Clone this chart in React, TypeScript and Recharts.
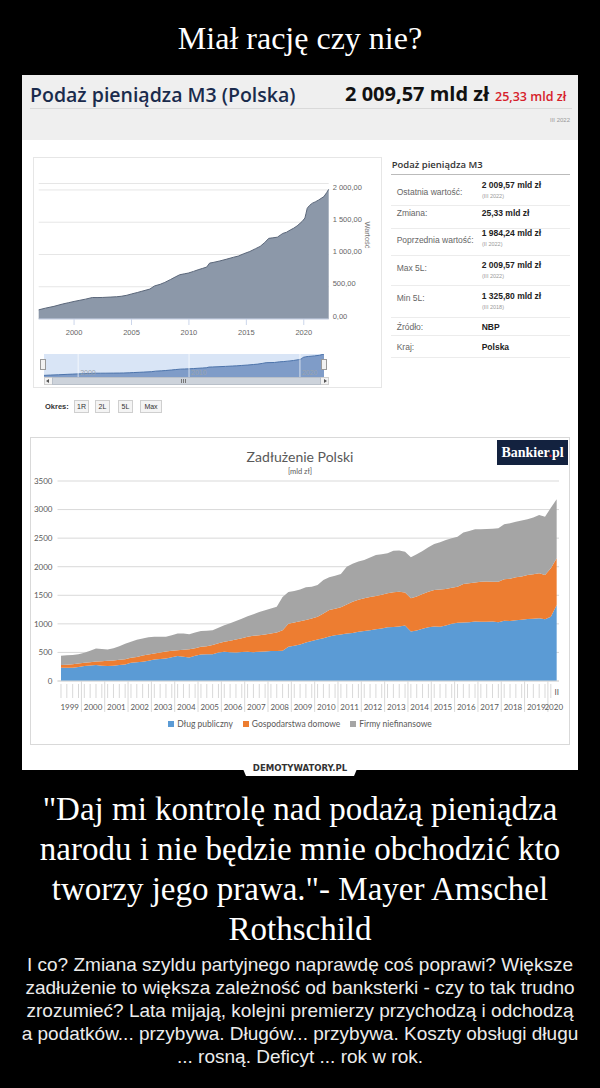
import React from 'react';
import { AreaChart, Area, XAxis, YAxis, CartesianGrid, ReferenceLine } from 'recharts';

// ---------- Podaż pieniądza M3 (mld zł) ----------
const m3Years = [1996.92, 1997.5, 1998.25, 1999.0, 1999.5, 2000.0, 2000.5, 2001.0, 2001.6, 2002.0, 2002.5, 2003.2, 2003.7, 2004.1, 2004.6, 2005.0, 2005.5, 2005.9, 2006.6, 2007.0, 2007.5, 2007.9, 2008.4, 2008.8, 2009.2, 2009.6, 2009.95, 2010.4, 2010.8, 2011.2, 2011.55, 2011.8, 2012.1, 2012.7, 2013.3, 2013.9, 2014.3, 2014.75, 2015.3, 2015.8, 2016.2, 2016.6, 2016.95, 2017.3, 2017.7, 2018.17, 2018.5, 2018.85, 2019.1, 2019.42, 2019.85, 2020.1, 2020.2, 2020.3, 2020.5, 2020.75, 2021.0, 2021.3, 2021.75, 2022.0, 2022.08, 2022.17];
const m3Values = [142, 168, 196, 232, 252, 272, 290, 308, 333, 332, 334, 340, 345, 352, 368, 388, 410, 430, 464, 512, 538, 567, 612, 650, 686, 700, 712, 738, 763, 785, 805, 866, 876, 900, 928, 958, 975, 1010, 1046, 1090, 1125, 1185, 1250, 1258, 1268, 1326, 1345, 1382, 1405, 1443, 1510, 1565, 1640, 1716, 1760, 1795, 1815, 1845, 1897, 1960, 1984.24, 2009.57];
const m3YTicks = [0, 500, 1000, 1500, 2000];
const m3XTicks = [2000, 2005, 2010, 2015, 2020];
const navTicks = [2000, 2010, 2020];
const periodButtons = ['1R', '2L', '5L', 'Max'];

const infoLabels = ['Ostatnia wartość:', 'Zmiana:', 'Poprzednia wartość:', 'Max 5L:', 'Min 5L:', 'Źródło:', 'Kraj:'];
const infoValues = ['2 009,57 mld zł', '25,33 mld zł', '1 984,24 mld zł', '2 009,57 mld zł', '1 325,80 mld zł', 'NBP', 'Polska'];
const infoDates = ['(III 2022)', '', '(II 2022)', '(III 2022)', '(III 2018)', '', ''];

// ---------- Zadłużenie Polski (mld zł), kwartalnie I 1999 – II 2020 ----------
const debtYears = [1999, 2000, 2001, 2002, 2003, 2004, 2005, 2006, 2007, 2008, 2009, 2010, 2011, 2012, 2013, 2014, 2015, 2016, 2017, 2018, 2019, 2020];
const quarterLabels = ['I', 'II', 'III', 'IV'];
const publicDebt = [232, 230, 232, 245, 261, 270, 279, 268, 261, 265, 279, 290, 320, 330, 337, 355, 378, 385, 395, 415, 436, 425, 412, 440, 465, 468, 470, 500, 511, 505, 500, 508, 511, 505, 511, 515, 523, 527, 529, 600, 615, 640, 675, 700, 726, 750, 780, 800, 815, 830, 840, 860, 875, 890, 904, 920, 939, 945, 955, 970, 865, 885, 915, 940, 955, 950, 970, 1000, 1020, 1025, 1030, 1040, 1038, 1035, 1040, 1030, 1055, 1050, 1065, 1070, 1085, 1090, 1097, 1080, 1125, 1330];
const households = [47, 55, 63, 60, 59, 60, 61, 77, 93, 95, 91, 92, 85, 90, 108, 110, 104, 115, 120, 115, 104, 123, 143, 135, 133, 142, 160, 160, 175, 200, 225, 242, 262, 285, 289, 300, 308, 323, 360, 400, 410, 405, 392, 395, 400, 430, 463, 465, 474, 510, 548, 560, 572, 580, 583, 590, 595, 610, 608, 580, 582, 595, 607, 620, 637, 650, 640, 630, 631, 672, 680, 685, 700, 705, 695, 708, 724, 740, 749, 760, 770, 780, 787, 775, 847, 817];
const firms = [163, 165, 158, 165, 174, 200, 229, 215, 198, 215, 240, 268, 281, 300, 299, 300, 291, 275, 258, 270, 291, 282, 264, 275, 279, 270, 259, 270, 290, 305, 327, 340, 360, 380, 408, 425, 436, 450, 581, 557, 550, 555, 572, 555, 554, 587, 571, 575, 583, 661, 662, 670, 670, 690, 718, 710, 700, 726, 722, 713, 717, 740, 753, 780, 805, 830, 857, 870, 875, 903, 915, 929, 916, 920, 930, 934, 963, 970, 974, 980, 974, 990, 1021, 1021, 1058, 1033];
const debtYTicks = [0, 500, 1000, 1500, 2000, 2500, 3000, 3500];
const seriesKeys = ['dlug', 'gosp', 'firmy'];
const seriesNames = ['Dług publiczny', 'Gospodarstwa domowe', 'Firmy niefinansowe'];
const seriesColors = ['#5b9bd5', '#ed7d31', '#a5a5a5'];

// ---------- derived tables ----------
const m3Data = m3Years.map((t, k) => ({ t, v: m3Values[k] }));
const debtData = publicDebt.map((d, i) => ({
  i,
  year: debtYears[Math.floor(i / 4)],
  q: quarterLabels[i % 4],
  dlug: d,
  gosp: households[i],
  firmy: firms[i],
}));
const yearCenters = debtYears.map((y) => {
  const idx = debtData.filter((r) => r.year === y).map((r) => r.i);
  return (idx[0] + idx[idx.length - 1]) / 2;
});
const yearSeparators = debtYears.slice(1).map((y) => (debtData.find((r) => r.year === y) as any).i - 0.5);
const quarterTicks = [...debtData.map((r) => r.i), ...yearSeparators].sort((a, b) => a - b);

const fmtPL = (v: number) => {
  const [int, dec] = v.toFixed(2).split('.');
  return int.replace(/\B(?=(\d{3})+(?!\d))/g, '\u00a0') + ',' + dec;
};

const SANS = '"Liberation Sans", Arial, sans-serif';
const SERIF = '"Liberation Serif", "Times New Roman", serif';
const OPEN = '"Open Sans", "Noto Sans", sans-serif';
const LATO = 'Lato, "Open Sans", sans-serif';

function T({ x, cy, size, children, style }: any) {
  return (
    <div
      style={{
        position: 'absolute',
        left: x,
        top: cy - size * 0.6,
        fontSize: size,
        lineHeight: `${size * 1.2}px`,
        whiteSpace: 'nowrap',
        ...style,
      }}
    >
      {children}
    </div>
  );
}

function M3YTick(props: any) {
  const { x, y, payload } = props;
  return (
    <text x={x} y={y - 3} dy="0.35em" textAnchor="start" fontSize={7.5} fill="#666" fontFamily={SANS}>
      {fmtPL(payload.value)}
    </text>
  );
}

function QuarterTick(props: any) {
  const { x, y, payload } = props;
  const v = payload.value;
  const sep = !Number.isInteger(v);
  const last = v === debtData.length - 1;
  if (last) {
    return (
      <text x={x} y={y + 14} textAnchor="middle" fontSize={8} fill="#595959" fontFamily={LATO}>
        {debtData[v].q}
      </text>
    );
  }
  return <line x1={x} x2={x} y1={sep ? y : y + 3} y2={sep ? y + 31 : y + 17} stroke="#d9d9d9" strokeWidth={1} />;
}

const btnX = [74, 95, 118, 140];
const btnW = [15, 15, 15, 22];
const rowCy = [191.7, 213.3, 240, 268.3, 297.7, 326.7, 346.7];
const valCy = [185, 213.3, 232.7, 265, 296, 326.7, 346.7];
const sepY = [205, 228, 255, 285, 316.7, 335, 356.7];

export default function App() {
  return (
    <div
      style={{
        position: 'absolute',
        left: 0,
        top: 0,
        width: 600,
        height: 1088,
        background: '#000',
        overflow: 'hidden',
        fontFamily: SANS,
      }}
    >
      {/* meme title */}
      <div
        style={{
          position: 'absolute',
          left: 0,
          top: 20,
          width: 600,
          textAlign: 'center',
          color: '#fff',
          fontFamily: SERIF,
          fontSize: 32,
          lineHeight: '36px',
        }}
      >
        Miał rację czy nie?
      </div>

      {/* white picture panel */}
      <div style={{ position: 'absolute', left: 22, top: 75, width: 556, height: 695, background: '#fff' }} />

      {/* header */}
      <div style={{ position: 'absolute', left: 22, top: 75, width: 556, height: 65, background: '#efefef' }} />
      <div
        style={{
          position: 'absolute',
          left: 30,
          top: 84.5,
          fontFamily: OPEN,
          fontWeight: 600,
          fontSize: 19.5,
          lineHeight: '19.5px',
          color: '#1a2b4c',
          whiteSpace: 'nowrap',
        }}
      >
        Podaż pieniądza M3 (Polska)
      </div>
      <div
        style={{
          position: 'absolute',
          left: 345,
          top: 84,
          fontFamily: OPEN,
          fontWeight: 700,
          fontSize: 20,
          lineHeight: '20px',
          color: '#111',
          whiteSpace: 'nowrap',
        }}
      >
        2 009,57 mld zł
      </div>
      <div
        style={{
          position: 'absolute',
          left: 495,
          top: 90.6,
          fontFamily: OPEN,
          fontWeight: 600,
          fontSize: 12.5,
          lineHeight: '12.5px',
          color: '#d6202a',
          whiteSpace: 'nowrap',
        }}
      >
        25,33 mld zł
      </div>
      <div style={{ position: 'absolute', left: 30, top: 108, width: 542, height: 1, background: '#d9d9d9' }} />
      <T x={520} cy={121} size={6} style={{ width: 50, textAlign: 'right', color: '#999' }}>
        III 2022
      </T>

      {/* M3 chart box */}
      <div
        style={{
          position: 'absolute',
          left: 33,
          top: 157,
          width: 349,
          height: 231,
          border: '1px solid #e6e6e6',
          boxSizing: 'border-box',
        }}
      />
      <div style={{ position: 'absolute', left: 33, top: 157 }}>
        <AreaChart width={349} height={190} data={m3Data} margin={{ top: 26.5, right: 8.3, bottom: 6, left: 5.7 }}>
          <CartesianGrid vertical={false} stroke="#e6e6e6" />
          <XAxis
            dataKey="t"
            type="number"
            domain={[1996.92, 2022.17]}
            ticks={m3XTicks}
            height={22}
            tickSize={6}
            tickMargin={5}
            stroke="#ccd6eb"
            tick={{ fontSize: 7.5, fill: '#666', fontFamily: SANS }}
            interval={0}
          />
          <YAxis
            orientation="right"
            domain={[0, 2100]}
            ticks={m3YTicks}
            width={45}
            tickSize={0}
            tickMargin={4}
            axisLine={false}
            tickLine={false}
            allowDataOverflow
            interval={0}
            tick={<M3YTick />}
          />
          <Area
            type="linear"
            dataKey="v"
            stroke="#5b677a"
            strokeWidth={1}
            fill="#8c98a9"
            fillOpacity={1}
            dot={false}
            activeDot={false}
            isAnimationActive={false}
          />
        </AreaChart>
      </div>
      <div
        style={{
          position: 'absolute',
          left: 367,
          top: 235,
          transform: 'translate(-50%, -50%) rotate(90deg)',
          fontSize: 7.5,
          color: '#777',
          whiteSpace: 'nowrap',
        }}
      >
        Wartość
      </div>

      {/* navigator */}
      <div style={{ position: 'absolute', left: 44, top: 354, width: 280, height: 23, background: '#d9e5f6' }}>
        <AreaChart width={280} height={23} data={m3Data} margin={{ top: 0, right: 0, bottom: 0, left: 0 }}>
          <XAxis dataKey="t" type="number" domain={[1996.92, 2022.17]} hide />
          <YAxis domain={[0, 'dataMax']} hide />
          <Area
            type="linear"
            dataKey="v"
            stroke="#4d74ab"
            strokeWidth={1}
            fill="#7f9cc8"
            fillOpacity={1}
            dot={false}
            activeDot={false}
            isAnimationActive={false}
          />
          {navTicks.map((t) => (
            <ReferenceLine
              key={t}
              x={t}
              stroke="rgba(255,255,255,0.7)"
              label={{ value: String(t), position: 'insideBottomLeft', offset: 2, fontSize: 7, fill: '#9aa3ad' }}
            />
          ))}
        </AreaChart>
      </div>
      {[40, 321].map((hx) => (
        <div
          key={hx}
          style={{
            position: 'absolute',
            left: hx,
            top: 359,
            width: 6,
            height: 11,
            background: '#f2f2f2',
            border: '1px solid #999',
            boxSizing: 'border-box',
          }}
        />
      ))}
      {/* scrollbar */}
      <div
        style={{
          position: 'absolute',
          left: 44,
          top: 377,
          width: 285,
          height: 8,
          background: '#f2f2f2',
          border: '1px solid #cfcfcf',
          boxSizing: 'border-box',
        }}
      />
      <div
        style={{
          position: 'absolute',
          left: 52,
          top: 377,
          width: 269,
          height: 8,
          background: '#cdd3db',
          border: '1px solid #b9c0c9',
          boxSizing: 'border-box',
        }}
      />
      <div style={{ position: 'absolute', left: 181, top: 379, width: 1, height: 4, background: '#777' }} />
      <div style={{ position: 'absolute', left: 183, top: 379, width: 1, height: 4, background: '#777' }} />
      <div style={{ position: 'absolute', left: 185, top: 379, width: 1, height: 4, background: '#777' }} />
      <div
        style={{
          position: 'absolute',
          left: 46,
          top: 379,
          width: 0,
          height: 0,
          borderTop: '2px solid transparent',
          borderBottom: '2px solid transparent',
          borderRight: '3px solid #555',
        }}
      />
      <div
        style={{
          position: 'absolute',
          left: 324,
          top: 379,
          width: 0,
          height: 0,
          borderTop: '2px solid transparent',
          borderBottom: '2px solid transparent',
          borderLeft: '3px solid #555',
        }}
      />

      {/* period buttons */}
      <T x={45} cy={406.7} size={7.5} style={{ color: '#333', fontWeight: 700 }}>
        Okres:
      </T>
      {periodButtons.map((b, k) => (
        <div
          key={b}
          style={{
            position: 'absolute',
            left: btnX[k],
            top: 400,
            width: btnW[k],
            height: 13,
            background: '#f4f4f4',
            border: '1px solid #cfcfcf',
            boxSizing: 'border-box',
            fontSize: 7,
            lineHeight: '11px',
            textAlign: 'center',
            color: '#333',
          }}
        >
          {b}
        </div>
      ))}

      {/* info table */}
      <T x={391.7} cy={165} size={9.5} style={{ fontFamily: OPEN, fontWeight: 600, color: '#333' }}>
        Podaż pieniądza M3
      </T>
      <div style={{ position: 'absolute', left: 391, top: 174, width: 179, height: 1, background: '#bbb' }} />
      {infoLabels.map((lab, k) => (
        <React.Fragment key={lab}>
          <T x={396.7} cy={rowCy[k]} size={8.5} style={{ color: '#666' }}>
            {lab}
          </T>
          <T x={481.7} cy={valCy[k]} size={8.5} style={{ color: '#222', fontWeight: 700 }}>
            {infoValues[k]}
          </T>
          {infoDates[k] && (
            <T x={482} cy={valCy[k] + 11.5} size={5.5} style={{ color: '#999' }}>
              {infoDates[k]}
            </T>
          )}
          <div style={{ position: 'absolute', left: 391, top: sepY[k], width: 179, height: 1, background: '#ececec' }} />
        </React.Fragment>
      ))}

      {/* debt chart box */}
      <div
        style={{
          position: 'absolute',
          left: 30,
          top: 437,
          width: 540,
          height: 308,
          border: '1px solid #d9d9d9',
          boxSizing: 'border-box',
        }}
      />
      <T x={30} cy={457} size={14} style={{ width: 540, textAlign: 'center', color: '#595959', fontFamily: LATO }}>
        Zadłużenie Polski
      </T>
      <T x={30} cy={471} size={7.5} style={{ width: 540, textAlign: 'center', color: '#595959', fontFamily: LATO }}>
        [mld zł]
      </T>
      <div
        style={{
          position: 'absolute',
          left: 497,
          top: 440,
          width: 71,
          height: 25,
          background: '#13223f',
          color: '#fff',
          fontFamily: SERIF,
          fontWeight: 700,
          fontSize: 14,
          lineHeight: '25px',
          textAlign: 'center',
        }}
      >
        Bankier<span style={{ color: '#e4262b' }}>.</span>pl
      </div>

      <div style={{ position: 'absolute', left: 30, top: 437 }}>
        <AreaChart width={540} height={308} data={debtData} margin={{ top: 44, right: 11, bottom: 26, left: 3.5 }}>
          <CartesianGrid vertical={false} stroke="#d9d9d9" xAxisId="q" />
          <XAxis
            xAxisId="q"
            dataKey="i"
            type="number"
            domain={[-0.6, 85.4]}
            ticks={quarterTicks}
            interval={0}
            height={18}
            tickSize={0}
            tickMargin={0}
            tickLine={false}
            stroke="#d9d9d9"
            tick={<QuarterTick />}
          />
          <XAxis
            xAxisId="yr"
            dataKey="i"
            type="number"
            domain={[-0.6, 85.4]}
            ticks={yearCenters}
            interval={0}
            height={20}
            tickSize={0}
            tickMargin={5}
            axisLine={false}
            tickLine={false}
            tickFormatter={(v: number) => String(debtYears[yearCenters.indexOf(v)])}
            tick={{ fontSize: 8, fill: '#595959', fontFamily: LATO }}
          />
          <YAxis
            domain={[0, 3500]}
            ticks={debtYTicks}
            width={24}
            tickSize={0}
            tickMargin={5}
            axisLine={false}
            tickLine={false}
            tick={{ fontSize: 8, fill: '#595959', fontFamily: LATO }}
          />
          {seriesKeys.map((k, s) => (
            <Area
              key={k}
              xAxisId="q"
              type="linear"
              dataKey={k}
              name={seriesNames[s]}
              stackId="d"
              stroke="none"
              fill={seriesColors[s]}
              fillOpacity={1}
              dot={false}
              activeDot={false}
              isAnimationActive={false}
            />
          ))}
        </AreaChart>
      </div>
      <div
        style={{
          position: 'absolute',
          left: 30,
          top: 718,
          width: 540,
          display: 'flex',
          justifyContent: 'center',
          gap: 10,
          fontFamily: LATO,
          fontSize: 8.5,
          lineHeight: '12px',
          color: '#595959',
        }}
      >
        {seriesNames.map((n, s) => (
          <div key={n} style={{ display: 'flex', alignItems: 'center' }}>
            <span style={{ display: 'inline-block', width: 6, height: 6, background: seriesColors[s], marginRight: 3 }} />
            {n}
          </div>
        ))}
      </div>

      {/* demotywatory tab */}
      <div
        style={{
          position: 'absolute',
          left: 240,
          top: 762,
          width: 120,
          height: 14,
          background: '#fff',
          clipPath: 'polygon(0 0, 100% 0, 95% 100%, 5% 100%)',
        }}
      />
      <div
        style={{
          position: 'absolute',
          left: 240,
          top: 762,
          width: 120,
          textAlign: 'center',
          fontFamily: '"DejaVu Sans Condensed", "DejaVu Sans", sans-serif',
          fontStretch: 'condensed',
          fontWeight: 700,
          fontSize: 9.5,
          lineHeight: '12px',
          color: '#333',
        }}
      >
        DEMOTYWATORY.PL
      </div>

      {/* quote */}
      <div
        style={{
          position: 'absolute',
          left: 0,
          top: 789,
          width: 600,
          textAlign: 'center',
          color: '#fff',
          fontFamily: SERIF,
          fontSize: 33,
          lineHeight: '40px',
          whiteSpace: 'nowrap',
        }}
      >
        "Daj mi kontrolę nad podażą pieniądza
        <br />
        narodu i nie będzie mnie obchodzić kto
        <br />
        tworzy jego prawa."- Mayer Amschel
        <br />
        Rothschild
      </div>

      {/* description */}
      <div
        style={{
          position: 'absolute',
          left: 0,
          top: 953,
          width: 600,
          textAlign: 'center',
          color: '#ececec',
          fontFamily: SANS,
          fontSize: 19,
          lineHeight: '23px',
          whiteSpace: 'nowrap',
        }}
      >
        I co? Zmiana szyldu partyjnego naprawdę coś poprawi? Większe
        <br />
        zadłużenie to większa zależność od banksterki - czy to tak trudno
        <br />
        zrozumieć? Lata mijają, kolejni premierzy przychodzą i odchodzą
        <br />
        a podatków... przybywa. Długów... przybywa. Koszty obsługi długu
        <br />
        ... rosną. Deficyt ... rok w rok.
      </div>
    </div>
  );
}
